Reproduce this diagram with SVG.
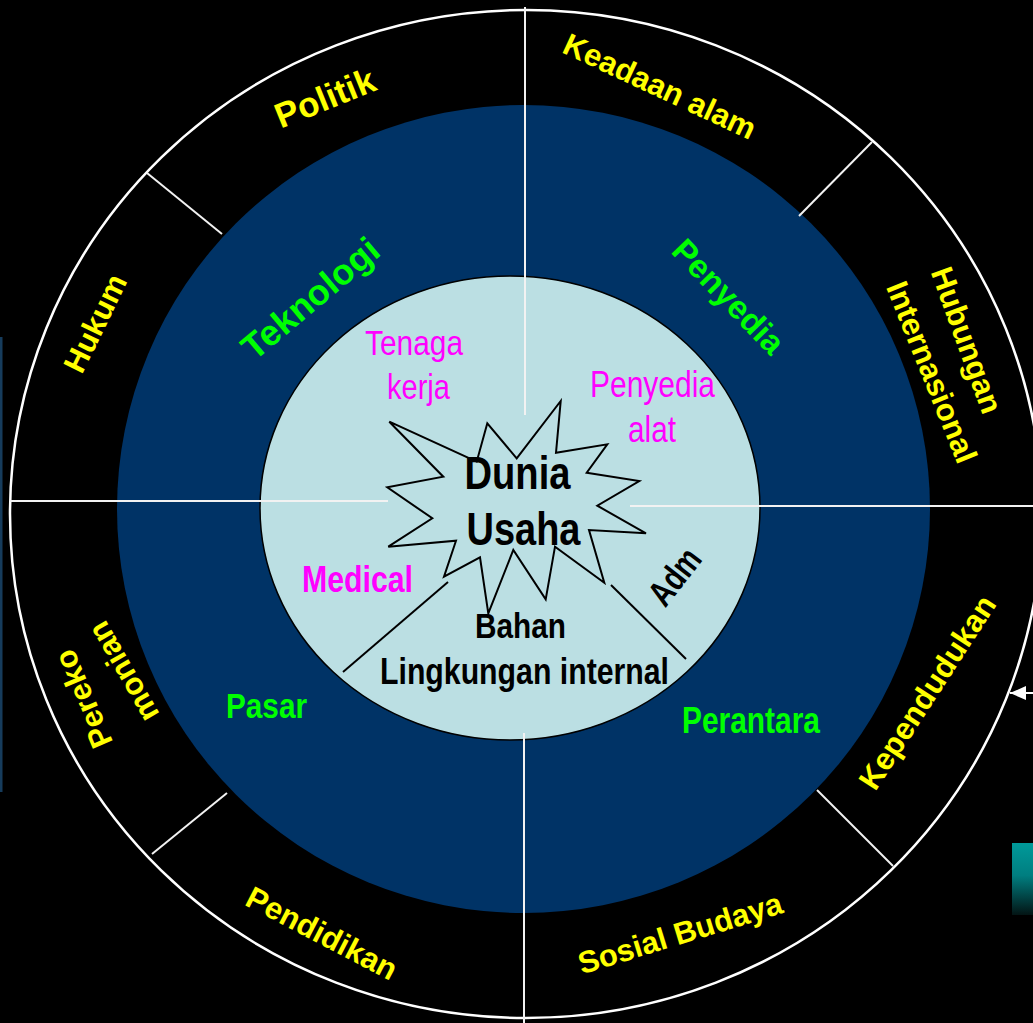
<svg xmlns="http://www.w3.org/2000/svg" width="1033" height="1023" viewBox="0 0 1033 1023">
  <defs>
    <style>
      .ring-edge { fill: #000000; stroke: #ffffff; stroke-width: 2.5; }
      .divider { stroke: #f2f2f2; stroke-width: 2; fill: none; }
      .inner-line { stroke: #000000; stroke-width: 2; fill: none; }
      .outer-label { font-family: "Liberation Sans", Arial, sans-serif; font-weight: bold; font-size: 31px; fill: #ffff00; text-anchor: middle; }
      .mid-label { font-family: "Liberation Sans", Arial, sans-serif; font-weight: bold; font-size: 34px; fill: #00ff00; text-anchor: middle; }
      .narrow { font-family: "Liberation Sans Narrow", "Liberation Sans", Arial, sans-serif; text-anchor: middle; }
      .bold { font-weight: bold; }
      .core { fill: #000000; }
      .pink { fill: #ff00ff; }
      .green { fill: #00ff00; }
    </style>
    <linearGradient id="tealFade" x1="0" y1="0" x2="0" y2="1">
      <stop offset="0" stop-color="#009a9a"/>
      <stop offset="0.45" stop-color="#007e80"/>
      <stop offset="1" stop-color="#031414"/>
    </linearGradient>
    <marker id="arrowHead" markerUnits="userSpaceOnUse" viewBox="0 0 16 14" refX="16" refY="7" markerWidth="16" markerHeight="14" orient="auto">
      <path d="M0,0 L16,7 L0,14 z" fill="#ffffff"/>
    </marker>
  </defs>

  <!-- background -->
  <rect x="0" y="0" width="1033" height="1023" fill="#000000"/>

  <!-- small edge pieces -->
  <rect x="0" y="337" width="2.5" height="455" fill="#163c5c"/>
  <rect x="1012" y="843" width="21" height="72" fill="url(#tealFade)"/>

  <!-- rings -->
  <g id="outer-ring">
    <ellipse cx="526" cy="514" rx="516" ry="504" class="ring-edge"/>
  </g>
  <g id="middle-ring">
    <ellipse cx="523.5" cy="509" rx="406.5" ry="404" fill="#003366"/>
  </g>
  <g id="inner-circle">
    <ellipse cx="510" cy="508" rx="250" ry="232" fill="#bbdfe3" stroke="#000000" stroke-width="1.5"/>
  </g>

  <!-- connectors: sector dividers and arrow -->
  <g id="connectors">
    <line class="divider" x1="525" y1="7" x2="525" y2="415"/>
    <line class="divider" x1="524" y1="733" x2="524" y2="1023"/>
    <line class="divider" x1="10" y1="501" x2="388" y2="501"/>
    <line class="divider" x1="630" y1="506" x2="1033" y2="506"/>
    <line class="divider" x1="147" y1="173" x2="222" y2="234"/>
    <line class="divider" x1="872" y1="142" x2="799" y2="216"/>
    <line class="divider" x1="227" y1="793" x2="152" y2="854"/>
    <line class="divider" x1="817" y1="790" x2="893" y2="866"/>
    <line class="inner-line" x1="343" y1="672" x2="448" y2="582"/>
    <line class="inner-line" x1="611" y1="585" x2="686" y2="659"/>
    <line x1="1033" y1="693" x2="1010" y2="693" stroke="#ffffff" stroke-width="2" marker-end="url(#arrowHead)"/>
  </g>

  <!-- central burst -->
  <g id="dunia-usaha">
    <polygon points="389.3,421.7 443.3,476.7 387.3,487.3 432.3,518.3 388.3,546.7 456,540.7 444,576.7 480,557.3 488.3,613.3 513.3,550 545.7,599.3 555,546.7 604.3,582.7 589,530 646,533.3 597.3,505.7 639.3,481 586.7,472.7 607.3,444.3 556,452.7 560.7,401 516.7,458.3 487.3,423.3 476.7,461.7" fill="#bbdfe3" stroke="#000000" stroke-width="2" stroke-linejoin="miter"/>
    <text class="narrow bold core" x="517.5" y="489" font-size="47" textLength="106" lengthAdjust="spacingAndGlyphs">Dunia</text>
    <text class="narrow bold core" x="523.5" y="545" font-size="47" textLength="114" lengthAdjust="spacingAndGlyphs">Usaha</text>
  </g>

  <!-- internal environment -->
  <g id="internal">
    <text class="narrow bold core" x="520.5" y="638" font-size="35" textLength="91" lengthAdjust="spacingAndGlyphs">Bahan</text>
    <text class="narrow bold core" x="524.5" y="684" font-size="36" textLength="289" lengthAdjust="spacingAndGlyphs">Lingkungan internal</text>
    <text class="narrow bold core" transform="translate(674,576) rotate(-52)" x="0" y="13" font-size="36" textLength="62" lengthAdjust="spacingAndGlyphs">Adm</text>
    <text class="narrow bold pink" x="357.5" y="592" font-size="36" textLength="111" lengthAdjust="spacingAndGlyphs">Medical</text>
    <text class="narrow pink" x="414" y="355" font-size="35" textLength="98" lengthAdjust="spacingAndGlyphs">Tenaga</text>
    <text class="narrow pink" x="418.5" y="399" font-size="35" textLength="63" lengthAdjust="spacingAndGlyphs">kerja</text>
    <text class="narrow pink" x="652.5" y="397" font-size="36" textLength="125" lengthAdjust="spacingAndGlyphs">Penyedia</text>
    <text class="narrow pink" x="652" y="442" font-size="36" textLength="48" lengthAdjust="spacingAndGlyphs">alat</text>
  </g>

  <!-- task environment -->
  <g id="task">
    <text class="mid-label" transform="translate(310,298) rotate(-40)" x="0" y="13" style="font-size:36px">Teknologi</text>
    <text class="mid-label" transform="translate(729,296) rotate(46)" x="0" y="12" style="font-size:33px">Penyedia</text>
    <text class="narrow bold green" x="266.5" y="718" font-size="35" textLength="81" lengthAdjust="spacingAndGlyphs">Pasar</text>
    <text class="narrow bold green" x="751" y="733" font-size="36" textLength="138" lengthAdjust="spacingAndGlyphs">Perantara</text>
  </g>

  <!-- external environment -->
  <g id="external">
    <text class="outer-label" transform="translate(325,98) rotate(-22)" x="0" y="12" style="font-size:35px">Politik</text>
    <text class="outer-label" transform="translate(660,86) rotate(25)" x="0" y="11">Keadaan alam</text>
    <text class="outer-label" transform="translate(95,323) rotate(-64)" x="0" y="11">Hukum</text>
    <text class="outer-label" transform="translate(967,340) rotate(70)" x="0" y="11">Hubungan</text>
    <text class="outer-label" transform="translate(932,372) rotate(68)" x="0" y="11">Internasional</text>
    <text class="outer-label" transform="translate(927,692) rotate(-57)" x="0" y="11">Kependudukan</text>
    <text class="outer-label" transform="translate(680,933) rotate(-17)" x="0" y="11">Sosial Budaya</text>
    <text class="outer-label" transform="translate(322,933) rotate(27.5)" x="0" y="11">Pendidikan</text>
    <text class="outer-label" transform="translate(83,699) rotate(-113)" x="0" y="11">Pereko</text>
    <text class="outer-label" transform="translate(123,672) rotate(-120)" x="0" y="11">monian</text>
  </g>
</svg>
